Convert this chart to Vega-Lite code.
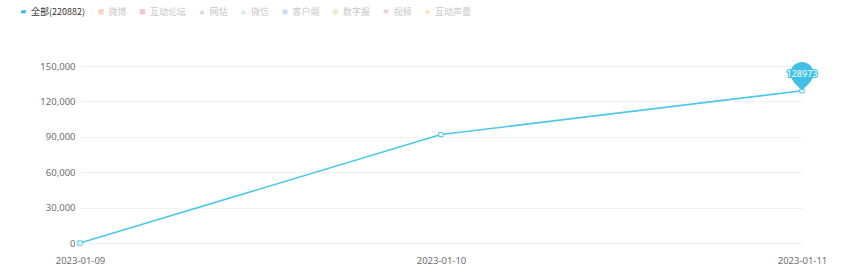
{
  "$schema": "https://vega.github.io/schema/vega-lite/v6.json",
  "width": 722,
  "height": 177,
  "autosize": "none",
  "padding": {"left": 80, "top": 66, "right": 58, "bottom": 34},
  "config": {
    "view": {"stroke": null},
    "font": "Noto Sans CJK SC",
    "axis": {"labelFont": "Noto Sans", "labelFontSize": 9.5, "labelColor": "#6e6e6e"}
  },
  "data": {
    "values": [
      {"date": "2023-01-09", "value": 0, "series": "全部(220882)"},
      {"date": "2023-01-10", "value": 91909, "series": "全部(220882)"},
      {"date": "2023-01-11", "value": 128973, "series": "全部(220882)"}
    ]
  },
  "encoding": {
    "x": {
      "field": "date", "type": "ordinal",
      "scale": {"type": "point", "padding": 0},
      "axis": {"title": null, "labelAngle": 0, "domain": false, "ticks": false, "labelPadding": 12, "grid": false}
    },
    "y": {
      "field": "value", "type": "quantitative",
      "scale": {"domain": [0, 150000], "nice": false},
      "axis": {"title": null, "values": [0, 30000, 60000, 90000, 120000, 150000], "format": ",d", "domain": false, "ticks": false, "labelPadding": 5, "gridColor": "#f1f1f1", "gridWidth": 1}
    }
  },
  "layer": [
    {
      "mark": {"type": "line", "strokeWidth": 1.6},
      "encoding": {
        "color": {
          "field": "series", "type": "nominal",
          "scale": {
            "domain": ["全部(220882)", "微博", "互动论坛", "网站", "微信", "客户端", "数字报", "视频", "互动声量"],
            "range": ["#4cc8e8", "#f6d7bd", "#f7c6d0", "#cfd6ee", "#c9ecd8", "#c6ddf6", "#e6efc6", "#f6cbd6", "#fbe6b4"]
          },
          "legend": {
            "title": null,
            "orient": "none",
            "legendX": -61,
            "legendY": -59,
            "direction": "horizontal",
            "columnPadding": 10.5,
            "labelFontSize": 9,
            "labelFont": "Noto Sans CJK SC",
            "labelOffset": 3,
            "symbolSize": 30,
            "encode": {
              "labels": {"update": {"fill": {"signal": "datum.label == '全部(220882)' ? '#333' : '#c8c8c8'"}}},
              "symbols": {"update": {
                "fill": {"signal": "datum.value == '全部(220882)' ? '#33b5e5' : scale('color', datum.value)"},
                "stroke": {"value": "transparent"},
                "fillOpacity": {"value": 1},
                "strokeWidth": {"value": 0},
                "shape": {"signal": "datum.value == '全部(220882)' ? 'M-0.6,-0.55 L1.1,-0.55 L0.6,0.55 L-1.1,0.55 Z' : (datum.value == '微博' || datum.value == '互动论坛') ? 'square' : (datum.value == '网站' || datum.value == '微信') ? 'triangle-up' : (datum.value == '客户端' || datum.value == '数字报') ? 'circle' : datum.value == '视频' ? 'M0,0.9 L-0.9,0 A0.45,0.45 0 0 1 0,-0.6 A0.45,0.45 0 0 1 0.9,0 Z' : 'diamond'"}
              }}
            }
          }
        }
      }
    },
    {
      "mark": {"type": "point", "shape": "square", "size": 18, "filled": true, "fill": "white", "stroke": "#4cc8e8", "strokeWidth": 1, "opacity": 1}
    },
    {
      "transform": [{"filter": "datum.date == '2023-01-11'"}],
      "mark": {
        "type": "point",
        "shape": "M0,0 C-0.3,-0.4 -1,-0.8 -1,-1.5 A1,1 0 0 1 1,-1.5 C1,-0.8 0.3,-0.4 0,0 Z",
        "size": 530,
        "filled": true,
        "fill": "#40c0e6",
        "opacity": 1,
        "strokeWidth": 0
      }
    },
    {
      "transform": [{"filter": "datum.date == '2023-01-11'"}],
      "mark": {"type": "text", "dy": -17, "fontSize": 9, "font": "Noto Sans", "color": "#40c0e6", "stroke": "#40c0e6", "strokeWidth": 2, "align": "center", "baseline": "middle"},
      "encoding": {"text": {"field": "value", "type": "quantitative", "format": "d"}}
    },
    {
      "transform": [{"filter": "datum.date == '2023-01-11'"}],
      "mark": {"type": "text", "dy": -17, "fontSize": 9, "font": "Noto Sans", "color": "white", "align": "center", "baseline": "middle"},
      "encoding": {"text": {"field": "value", "type": "quantitative", "format": "d"}}
    }
  ]
}
